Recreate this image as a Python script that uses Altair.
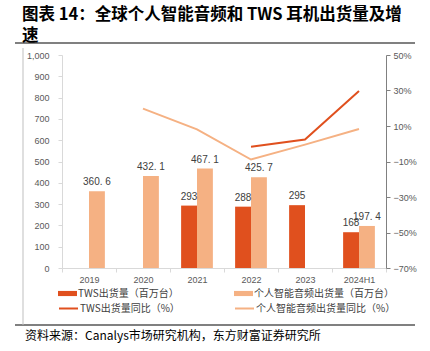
import altair as alt
import pandas as pd

categories = ["2019", "2020", "2021", "2022", "2023", "2024H1"]
tws_units = [None, None, 293, 288, 295, 168]
audio_units = [360.6, 432.1, 467.1, 425.7, None, 197.4]
tws_yoy = [None, None, None, -1.7, 2.4, 29.7]
audio_yoy = [None, 19.8, 8.1, -8.9, -0.5, 8.3]

bar_series = ["TWS出货量（百万台）", "个人智能音频出货量（百万台）"]
line_series = ["TWS出货量同比（%）", "个人智能音频出货量同比（%）"]
dark = "#E0501E"
light = "#F5B183"

title_lines = ["图表 14：全球个人智能音频和 TWS 耳机出货量及增", "速"]
source_text = "资料来源：Canalys市场研究机构，东方财富证券研究所"

bar_rows = []
for c, t, a in zip(categories, tws_units, audio_units):
    if t is not None:
        bar_rows.append({"cat": c, "series": bar_series[0], "value": t, "fmt": "d"})
    if a is not None:
        bar_rows.append({"cat": c, "series": bar_series[1], "value": a, "fmt": "f"})
bar_df = pd.DataFrame(bar_rows)

line_rows = []
for c, t, a in zip(categories, tws_yoy, audio_yoy):
    if t is not None:
        line_rows.append({"cat": c, "series": line_series[0], "yoy": t})
    if a is not None:
        line_rows.append({"cat": c, "series": line_series[1], "yoy": a})
line_df = pd.DataFrame(line_rows)

font = "Noto Sans CJK SC"
axis_font = "Liberation Sans"

x_enc = alt.X("cat:N", sort=categories,
              scale=alt.Scale(paddingInner=0, paddingOuter=0),
              axis=alt.Axis(title=None, labelAngle=0, tickBand="extent",
                            domainColor="#d9d9d9", tickColor="#d9d9d9",
                            tickSize=4, labelFont=axis_font, labelFontSize=9,
                            labelColor="#595959", labelPadding=3, grid=False))
xoff = alt.XOffset("series:N", sort=bar_series,
                   scale=alt.Scale(domain=bar_series, paddingOuter=0.7, paddingInner=0))
y_left = alt.Y("value:Q", scale=alt.Scale(domain=[0, 1000]),
               axis=alt.Axis(title=None, values=list(range(0, 1001, 100)),
                             labelExpr="format(datum.value, ',')",
                             domainColor="#d9d9d9", tickColor="#d9d9d9", tickSize=4,
                             labelFont=axis_font, labelFontSize=9, labelColor="#595959",
                             labelPadding=9, grid=False))


def legend_at(lx, ly, symbol, swidth):
    return alt.Legend(title=None, orient="none", legendX=lx, legendY=ly,
                      symbolType=symbol, symbolSize=361, symbolStrokeWidth=swidth,
                      labelFont=font, labelFontSize=10, labelColor="#404040",
                      labelOffset=1, symbolOffset=0, padding=0)


bar_symbol = "M-1,-0.27H1V0.27H-1Z"
legend_pos = [(-4, 229), (172, 229)]
line_legend_pos = [(-4, 243), (172, 243)]

bar_layers = []
for i, s in enumerate(bar_series):
    bar_layers.append(
        alt.Chart(bar_df).transform_filter(alt.datum.series == s).mark_bar().encode(
            x=x_enc,
            xOffset=xoff,
            y=y_left,
            color=alt.Color("series:N", scale=alt.Scale(domain=[s], range=[[dark, light][i]]),
                            legend=legend_at(legend_pos[i][0], legend_pos[i][1], bar_symbol, 0)),
        )
    )

labels = alt.Chart(bar_df).transform_calculate(
    label="datum.fmt == 'd' ? format(datum.value, 'd') : replace(format(datum.value, '.1f'), '.', '. ')"
).mark_text(baseline="bottom", dy=-4, fontSize=10, font=axis_font, color="#404040").encode(
    x=x_enc,
    xOffset=xoff,
    y=y_left,
    text="label:N",
)

left_part = alt.layer(*bar_layers, labels).resolve_scale(color="independent")

y_right = alt.Y("yoy:Q", scale=alt.Scale(domain=[-70, 50]),
                axis=alt.Axis(title=None, orient="right", values=[-70, -50, -30, -10, 10, 30, 50],
                              labelExpr="format(datum.value, 'd') + '%'",
                              domainColor="#808080", tickColor="#808080", tickSize=4,
                              labelFont=axis_font, labelFontSize=9, labelColor="#595959",
                              labelPadding=3, grid=False))

line_layers = []
for i, s in enumerate(line_series):
    line_layers.append(
        alt.Chart(line_df).transform_filter(alt.datum.series == s).mark_line(strokeWidth=2).encode(
            x=alt.X("cat:N", sort=categories),
            y=y_right,
            stroke=alt.Stroke("series:N", scale=alt.Scale(domain=[s], range=[[dark, light][i]]),
                              legend=legend_at(line_legend_pos[i][0], line_legend_pos[i][1],
                                               "stroke", 2)),
        )
    )

right_part = alt.layer(*line_layers).resolve_scale(stroke="independent")

one = alt.Data(values=[{"k": 1}])
top_rule = alt.Chart(one).mark_rule(color="#808080", strokeWidth=2).encode(
    x=alt.value(-47), x2=alt.value(353), y=alt.value(-12))
bottom_rule = alt.Chart(one).mark_rule(color="#808080", strokeWidth=2).encode(
    x=alt.value(-47), x2=alt.value(353), y=alt.value(270))
left_rule = alt.Chart(one).mark_rule(color="#bfbfbf", strokeWidth=1).encode(
    x=alt.value(-39), y=alt.value(-7), y2=alt.value(270))
source = alt.Chart(one).mark_text(align="left", baseline="middle", font=font, fontSize=12,
                                  color="#000000").encode(
    x=alt.value(-37), y=alt.value(281), text=alt.value(source_text))

chart = alt.layer(left_part, right_part, top_rule, bottom_rule, left_rule, source).resolve_scale(
    y="independent"
).properties(
    width=324, height=213,
    autosize=alt.AutoSizeParams(type="none"),
    padding={"left": 62, "top": 55, "right": 44, "bottom": 83},
    title=alt.TitleParams(text=title_lines, anchor="start", frame="group", font=font,
                          fontSize=16.5, fontWeight="bold", color="#000000", dx=-40,
                          dy=4, offset=2, lineHeight=21),
).configure_view(stroke=None)

chart.save("out.html", embed_options={"renderer": "svg", "actions": False})
